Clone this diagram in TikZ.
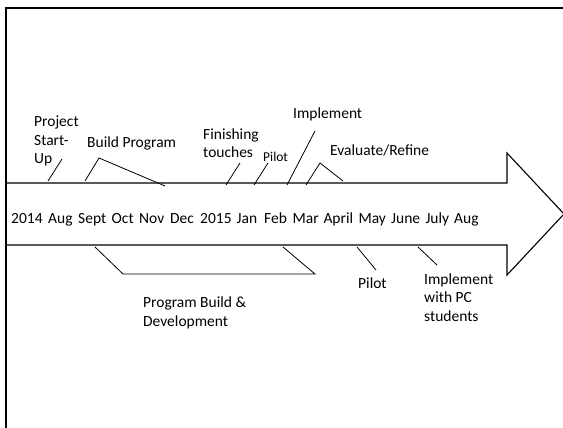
\documentclass[tikz,border=0pt]{standalone}
\usepackage{fontspec}
\setmainfont{Carlito}
\usepackage{tikz}
\usetikzlibrary{positioning,calc}

\begin{document}
\begin{tikzpicture}[
    x=1pt, y=-1pt,
    lbl/.style={inner sep=0pt, anchor=base west, align=left, font=\fontsize{15.5}{18.6}\selectfont},
    small/.style={lbl, font=\fontsize{13.5}{16}\selectfont},
    month/.style={inner sep=0pt, anchor=base west, font=\fontsize{15.5}{18.6}\selectfont},
    tick/.style={line width=0.8pt},
    shaft/.style={line width=1.1pt, line join=miter},
    frame/.style={line width=2.5pt}
]
    \useasboundingbox (0,0) rectangle (563,428);

    % frame
    \draw[frame] (6,428) -- (6,8) -- (566,8);

    % timeline arrow
    \draw[shaft] (6,183) -- (507,183) -- (507,153) -- (564,214)
        -- (507,275) -- (507,245) -- (6,245);

    % months (left edges)
    \foreach \x/\m [count=\i] in {11/2014, 48/Aug, 78/Sept, 111.5/Oct, 139/Nov,
        170/Dec, 200/2015, 236.5/Jan, 264/Feb, 292.5/Mar, 323.3/April, 358.3/May,
        391/June, 425.3/July, 454/Aug}
        \node[month] (m\i) at (\x,223.5) {\m};

    % labels above (base = last line)
    \node[lbl] (startup) at (34,164) {Project\\Start-\\Up};
    \node[lbl] (build) at (87,147.3) {Build Program};
    \node[lbl] (finish) at (203,157.7) {Finishing\\touches};
    \node[small] (pilotA) at (263,161) {Pilot};
    \node[lbl] (implA) at (293,118.3) {Implement};
    \node[lbl] (evalref) at (330,156) {Evaluate/Refine};

    % labels below
    \node[lbl] (progdev) at (143,326.5) {Program Build \&\\Development};
    \node[lbl] (pilotB) at (358,288.5) {Pilot};
    \node[lbl] (implB) at (424,321.5) {Implement\\with PC\\students};

    % callout lines
    \coordinate (su1) at (48,181);   \coordinate (su2) at (62,159);
    \coordinate (bp1) at (85,181);   \coordinate (bp2) at (99,158);
    \coordinate (bp3) at (165,186);
    \coordinate (ft1) at (226,185);  \coordinate (ft2) at (240,163);
    \coordinate (pa1) at (254,185);  \coordinate (pa2) at (268,163);
    \coordinate (ia1) at (287,185);  \coordinate (ia2) at (315,131);
    \coordinate (er1) at (306,185);  \coordinate (er2) at (320,163);
    \coordinate (er3) at (343,181);
    \coordinate (pd1) at (95,247);   \coordinate (pd2) at (123,274);
    \coordinate (pd3) at (315,274);  \coordinate (pd4) at (283,247);
    \coordinate (pb1) at (357,247);  \coordinate (pb2) at (376,270);
    \coordinate (ib1) at (418,247);  \coordinate (ib2) at (437,265);

    \draw[tick] (su1) -- (su2);
    \draw[tick] (bp1) -- (bp2) -- (bp3);
    \draw[tick] (ft1) -- (ft2);
    \draw[tick] (pa1) -- (pa2);
    \draw[tick] (ia1) -- (ia2);
    \draw[tick] (er1) -- (er2) -- (er3);
    \draw[tick] (pd1) -- (pd2) -- (pd3) -- (pd4);
    \draw[tick] (pb1) -- (pb2);
    \draw[tick] (ib1) -- (ib2);
\end{tikzpicture}
\end{document}
